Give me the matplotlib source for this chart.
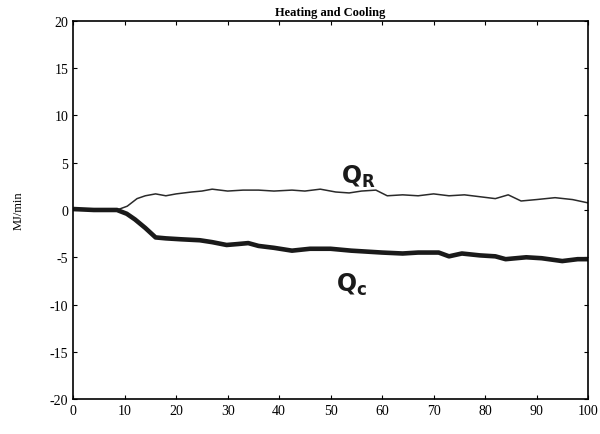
import matplotlib.pyplot as plt

# values (MJ/min vs time)
qr_t = [0, 4, 8.5, 10.5, 12.4, 14, 16, 18, 20, 23, 25, 27, 30, 33, 36, 39, 42.5, 45, 48,
        51, 53.6, 56, 58.8, 61, 64, 67, 70, 73, 76, 79, 82, 84.5, 87, 90, 93.6, 97, 100]
qr = [0.1, 0.1, 0.0, 0.4, 1.2, 1.5, 1.7, 1.5, 1.7, 1.9, 2.0, 2.2, 2.0, 2.1, 2.1, 2.0, 2.1, 2.0, 2.2,
      1.9, 1.8, 2.0, 2.1, 1.5, 1.6, 1.5, 1.7, 1.5, 1.6, 1.4, 1.2, 1.6, 0.95, 1.1, 1.3, 1.1, 0.75]

qc_t = [0, 4, 8.5, 10.4, 12, 14, 16, 18, 21, 24.6, 27, 29.8, 32, 34, 36, 39, 42.5, 46, 50,
        54, 57, 60, 64, 67, 71, 73, 75.5, 79, 82, 84, 88, 91, 95, 98, 100]
qc = [0.1, 0.0, 0.0, -0.4, -1.0, -1.9, -2.9, -3.0, -3.1, -3.2, -3.4, -3.7, -3.6, -3.5, -3.8, -4.0, -4.3, -4.1, -4.1,
      -4.3, -4.4, -4.5, -4.6, -4.5, -4.5, -4.9, -4.6, -4.8, -4.9, -5.2, -5.0, -5.1, -5.4, -5.2, -5.2]

serif = ['Liberation Serif', 'DejaVu Serif']
plt.rcParams['axes.unicode_minus'] = False

fig = plt.figure(figsize=(6, 4.35), dpi=100)
ax = fig.add_axes([0.122, 0.08, 0.858, 0.87])

ax.plot(qr_t, qr, color='#2a2a2a', lw=1.1)
ax.plot(qc_t, qc, color='#1a1a1a', lw=3.3, solid_capstyle='butt')

ax.set_xlim(0, 100)
ax.set_ylim(-20, 20)
ax.set_xticks(range(0, 101, 10))
ax.set_yticks(range(-20, 21, 5))
ax.tick_params(direction='in', top=True, right=True, length=3, labelsize=10)
for lab in ax.get_xticklabels() + ax.get_yticklabels():
    lab.set_family(serif)
for s in ax.spines.values():
    s.set_linewidth(1.2)

ax.set_title('Heating and Cooling', fontsize=9, fontweight='bold', family=serif, pad=4)
ax.set_ylabel('MJ/min', fontsize=9, family=serif, labelpad=18)

# handwritten labels on the scan
ax.text(52, 3.6, r'$\mathbf{Q}_{\mathbf{R}}$', fontsize=17, color='#1a1a1a', ha='left', va='center')
ax.text(51, -7.8, r'$\mathbf{Q}_{\mathbf{c}}$', fontsize=17, color='#1a1a1a', ha='left', va='center')

fig.savefig('out.png', dpi=100)
